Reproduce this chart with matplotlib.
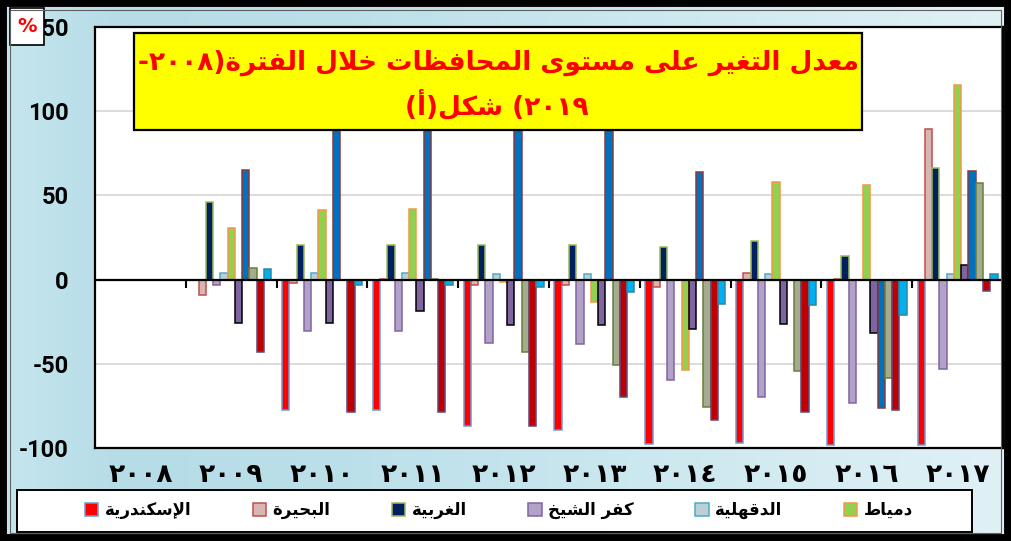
import numpy as np
import matplotlib
matplotlib.use("Agg")
import matplotlib.pyplot as plt
from matplotlib.patches import Rectangle
from matplotlib.font_manager import FontProperties

# ---------------- data ----------------
years = ['٢٠٠٨', '٢٠٠٩', '٢٠١٠', '٢٠١١', '٢٠١٢', '٢٠١٣', '٢٠١٤', '٢٠١٥', '٢٠١٦', '٢٠١٧']
legend_names = ['الإسكندرية', 'البحيرة', 'الغربية', 'كفر الشيخ', 'الدقهلية', 'دمياط']

alexandria = [0, 0, -77.4, -77.4, -86.7, -89.3, -97.6, -97.3, -98.4, -98.4]
beheira = [0, -9.3, -2.0, 0.5, -3.4, -3.4, -4.4, 4.0, 0.5, 89.5]
gharbia = [0, 46.2, 20.8, 20.8, 20.8, 20.8, 19.6, 22.8, 14.3, 66.0]
kafr_elsheikh = [0, -3.4, -30.6, -30.4, -37.5, -38.1, -59.5, -69.5, -73.4, -52.8]
dakahlia = [0, 4.2, 4.2, 3.9, 3.2, 3.2, 0, 3.2, 0, 3.5]
damietta = [0, 30.7, 41.3, 42.0, -1.4, -13.3, -53.6, 58.1, 56.1, 115.5]
series7 = [0, -25.6, -25.6, -18.7, -27.2, -27.2, -29.2, -26.6, -31.9, 8.5]
series8 = [0, 65.0, 130.0, 130.0, 130.0, 130.0, 64.0, 0, -76.4, 64.5]
series9 = [0, 6.9, -0.5, 0.5, -42.7, -50.6, -75.4, -54.4, -58.4, 57.5]
series10 = [0, -42.7, -78.4, -78.4, -86.7, -69.9, -83.3, -78.4, -77.5, -7.0]
series11 = [0, 6.3, -3.4, -3.4, -4.4, -7.4, -14.3, -15.3, -21.1, 3.5]

y_ticks = [-100, -50, 0, 50, 100, 150]
title_line1 = 'معدل التغير على مستوى المحافظات خلال الفترة(٢٠٠٨-'
title_line2 = '٢٠١٩) شكل(أ)'

series = [alexandria, beheira, gharbia, kafr_elsheikh, dakahlia, damietta,
          series7, series8, series9, series10, series11]
fills = ['#FF0000', '#D9B5B4', '#002060', '#B3A2C7', '#BCCFD8', '#92D050',
         '#8064A2', '#0070C0', '#A5AB8E', '#C00000', '#00B0F0']
edges = ['#6C9BD6', '#C0504D', '#9BBB59', '#8064A2', '#4BACC6', '#F79646',
         '#000000', '#8B3A3A', '#6B7D3A', '#5F497A', '#31859C']

# ---------------- minimal Arabic shaping (matplotlib has no shaping / bidi) ----
FORMS = {
    'ا': (0xFE8D, 0xFE8E, None, None), 'أ': (0xFE83, 0xFE84, None, None),
    'إ': (0xFE87, 0xFE88, None, None), 'آ': (0xFE81, 0xFE82, None, None),
    'ب': (0xFE8F, 0xFE90, 0xFE91, 0xFE92), 'ة': (0xFE93, 0xFE94, None, None),
    'ت': (0xFE95, 0xFE96, 0xFE97, 0xFE98), 'ث': (0xFE99, 0xFE9A, 0xFE9B, 0xFE9C),
    'ج': (0xFE9D, 0xFE9E, 0xFE9F, 0xFEA0), 'ح': (0xFEA1, 0xFEA2, 0xFEA3, 0xFEA4),
    'خ': (0xFEA5, 0xFEA6, 0xFEA7, 0xFEA8), 'د': (0xFEA9, 0xFEAA, None, None),
    'ذ': (0xFEAB, 0xFEAC, None, None), 'ر': (0xFEAD, 0xFEAE, None, None),
    'ز': (0xFEAF, 0xFEB0, None, None), 'س': (0xFEB1, 0xFEB2, 0xFEB3, 0xFEB4),
    'ش': (0xFEB5, 0xFEB6, 0xFEB7, 0xFEB8), 'ص': (0xFEB9, 0xFEBA, 0xFEBB, 0xFEBC),
    'ض': (0xFEBD, 0xFEBE, 0xFEBF, 0xFEC0), 'ط': (0xFEC1, 0xFEC2, 0xFEC3, 0xFEC4),
    'ظ': (0xFEC5, 0xFEC6, 0xFEC7, 0xFEC8), 'ع': (0xFEC9, 0xFECA, 0xFECB, 0xFECC),
    'غ': (0xFECD, 0xFECE, 0xFECF, 0xFED0), 'ف': (0xFED1, 0xFED2, 0xFED3, 0xFED4),
    'ق': (0xFED5, 0xFED6, 0xFED7, 0xFED8), 'ك': (0xFED9, 0xFEDA, 0xFEDB, 0xFEDC),
    'ل': (0xFEDD, 0xFEDE, 0xFEDF, 0xFEE0), 'م': (0xFEE1, 0xFEE2, 0xFEE3, 0xFEE4),
    'ن': (0xFEE5, 0xFEE6, 0xFEE7, 0xFEE8), 'ه': (0xFEE9, 0xFEEA, 0xFEEB, 0xFEEC),
    'و': (0xFEED, 0xFEEE, None, None), 'ى': (0xFEEF, 0xFEF0, None, None),
    'ي': (0xFEF1, 0xFEF2, 0xFEF3, 0xFEF4),
}
LAMALEF = {'آ': (0xFEF5, 0xFEF6), 'أ': (0xFEF7, 0xFEF8),
           'إ': (0xFEF9, 0xFEFA), 'ا': (0xFEFB, 0xFEFC)}
MIRROR = {'(': ')', ')': '('}
DIGITS = set('0123456789٠١٢٣٤٥٦٧٨٩')


def _joins_next(c):
    return c in FORMS and FORMS[c][2] is not None


def shape(text):
    out, i, n = [], 0, len(text)
    while i < n:
        c = text[i]
        if c not in FORMS:
            out.append(c)
            i += 1
            continue
        prev = text[i - 1] if i > 0 else None
        prev_j = prev is not None and _joins_next(prev)
        if c == 'ل' and i + 1 < n and text[i + 1] in LAMALEF:
            iso, fin = LAMALEF[text[i + 1]]
            out.append(chr(fin if prev_j else iso))
            i += 2
            continue
        nxt = text[i + 1] if i + 1 < n else None
        next_j = _joins_next(c) and nxt is not None and nxt in FORMS
        iso, fin, ini, med = FORMS[c]
        if prev_j and next_j:
            g = med
        elif prev_j:
            g = fin
        elif next_j:
            g = ini
        else:
            g = iso
        out.append(chr(g))
        i += 1
    return ''.join(out)


def visual(text):
    s = shape(text)
    runs, cur, cur_d = [], '', None
    for ch in s:
        d = ch in DIGITS
        if cur and d != cur_d:
            runs.append((cur, cur_d))
            cur = ''
        cur += ch
        cur_d = d
    if cur:
        runs.append((cur, cur_d))
    parts = []
    for r, d in reversed(runs):
        if d:
            parts.append(r)
        else:
            parts.append(''.join(MIRROR.get(c, c) for c in reversed(r)))
    return ''.join(parts)


# ---------------- figure ----------------
plt.rcParams['axes.unicode_minus'] = False
W, H = 1011, 541
fig = plt.figure(figsize=(W / 100, H / 100), dpi=100)

# background gradient
bg = fig.add_axes([0, 0, 1, 1], zorder=-10)
xs = np.linspace(0, 1, 400)
stops = [0.0, 0.12, 0.35, 1.0]
cols = np.array([[198, 230, 238], [181, 220, 231], [188, 224, 234], [224, 241, 246]]) / 255
grad = np.stack([np.interp(xs, stops, cols[:, k]) for k in range(3)], axis=-1)[None, :, :]
bg.imshow(grad, aspect='auto', extent=[0, 1, 0, 1])
bg.set_axis_off()

ax = fig.add_axes([95 / W, (H - 448) / H, 908 / W, 421 / H])
ax.set_facecolor('white')

x = np.arange(len(years))
w = 1 / 12.5
containers = []
for j, vals in enumerate(series):
    lab = legend_names[j] if j < len(legend_names) else '_nolegend_'
    c = ax.bar(x + (j - 5) * w, vals, width=w, color=fills[j], edgecolor=edges[j],
               linewidth=1.1, label=lab, zorder=3)
    containers.append(c)

ax.set_xlim(-0.5, len(years) - 0.5)
ax.set_ylim(y_ticks[0], y_ticks[-1])
ax.set_yticks(y_ticks)
ax.yaxis.grid(True, color='#D9D9D9', linewidth=1.3, zorder=0)
ax.set_axisbelow(True)
ax.axhline(0, color='black', linewidth=1.6, zorder=5)
ax.vlines(x[:-1] + 0.5, -5, 0, color='black', linewidth=1.5, zorder=5)

ax.set_xticks(x)
ax.set_xticklabels(years, fontfamily='DejaVu Sans', fontweight='bold', fontsize=19)
ax.tick_params(axis='both', length=0)
ax.tick_params(axis='y', pad=19)
ax.tick_params(axis='x', pad=10)
yfp = FontProperties(family=['Roboto', 'DejaVu Sans'], weight='bold', size=17)
for t in ax.get_yticklabels():
    t.set_fontproperties(yfp)
for sp in ax.spines.values():
    sp.set_linewidth(1.6)
    sp.set_color('black')

# title box
fig.add_artist(Rectangle((134 / W, (H - 130) / H), 728 / W, 97 / H, transform=fig.transFigure,
                         facecolor='#FFFF00', edgecolor='black', linewidth=1.6, zorder=3))
tfp = FontProperties(family='DejaVu Sans', weight='bold', size=19)
fig.text(498 / W, (H - 63) / H, visual(title_line1), ha='center', va='center', color='#FF0000',
         fontproperties=tfp, zorder=4)
fig.text(497 / W, (H - 105) / H, visual(title_line2), ha='center', va='center', color='#FF0000',
         fontproperties=tfp, zorder=4)

# percent box
fig.add_artist(Rectangle((10 / W, (H - 45) / H), 34 / W, 37 / H, transform=fig.transFigure,
                         facecolor='white', edgecolor='black', linewidth=1.2, zorder=3))
fig.text(27 / W, (H - 27) / H, '%', ha='center', va='center', color='#FF0000',
         fontsize=14, fontweight='bold', zorder=4)

# legend
fig.add_artist(Rectangle((17 / W, (H - 532) / H), 955 / W, 42 / H, transform=fig.transFigure,
                         facecolor='white', edgecolor='black', linewidth=1.4, zorder=2))
lfp = FontProperties(family='DejaVu Sans', weight='bold', size=12)
fig.legend([containers[j] for j in range(len(legend_names))],
           [visual(n) for n in legend_names], ncol=len(legend_names), loc='center',
           bbox_to_anchor=(499 / W, (H - 510) / H), frameon=False, prop=lfp,
           handlelength=0.8, handleheight=0.8, handletextpad=0.4, columnspacing=3.68)

# outer frame
fig.add_artist(Rectangle((0, 0), 1, 1, transform=fig.transFigure, fill=False,
                         edgecolor='black', linewidth=10, zorder=10))
fig.add_artist(Rectangle((10 / W, 8 / H), (W - 20) / W, (H - 18) / H, transform=fig.transFigure,
                         fill=False, edgecolor='#606060', linewidth=0.8, zorder=10))

fig.savefig('out.png', dpi=100)
